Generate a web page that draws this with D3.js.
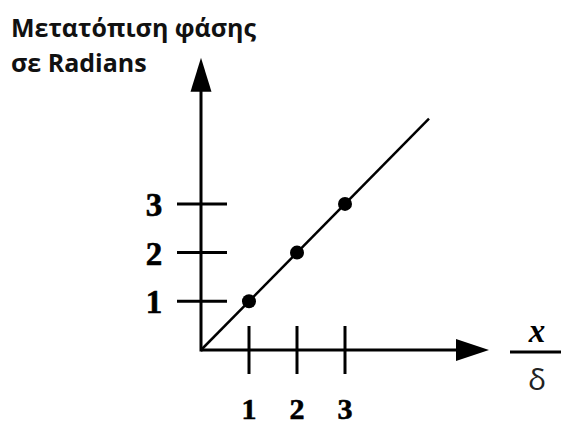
<!DOCTYPE html>
<html>
<head>
<meta charset="utf-8">
<script src="https://cdn.jsdelivr.net/npm/d3@7"></script>
<style>
  html, body { margin: 0; padding: 0; background: #fff; }
  svg { display: block; }
</style>
</head>
<body>
<script>
// Phase shift (radians) grows linearly with x/δ
const xTicks = [1, 2, 3];
const yTicks = [1, 2, 3];
const pointsX = [1, 2, 3];
const pointsY = [1, 2, 3];
const lineX = [0, 4.75];
const lineY = [0, 4.75];
const axisMax = 6;
const titleLines = ["Μετατόπιση φάσης", "σε Radians"];
const xLabelTop = "x";
const xLabelBottom = "δ";

const W = 561, H = 426;
const svg = d3.select("body").append("svg").attr("width", W).attr("height", H);

const x = d3.scaleLinear().domain([0, 1]).range([201, 249]);
const y = d3.scaleLinear().domain([0, 1]).range([350, 301.3]);

const ink = "#000";

// Axes lines
svg.append("line").attr("x1", x(0)).attr("y1", y(0)).attr("x2", x(axisMax) - 30).attr("y2", y(0))
  .attr("stroke", ink).attr("stroke-width", 3);
svg.append("line").attr("x1", x(0)).attr("y1", y(0) + 1.5).attr("x2", x(0)).attr("y2", y(axisMax) + 30)
  .attr("stroke", ink).attr("stroke-width", 3);

// Arrowheads
const xt = x(axisMax), yt = y(0);
svg.append("path").attr("d", `M${xt},${yt} L${xt - 33},${yt - 11} L${xt - 33},${yt + 11} Z`).attr("fill", ink);
const ax = x(0), ay = y(axisMax);
svg.append("path").attr("d", `M${ax},${ay} L${ax - 10.5},${ay + 34} L${ax + 10.5},${ay + 34} Z`).attr("fill", ink);

// Tick marks crossing the axes
svg.selectAll("line.xt").data(xTicks).join("line").attr("class", "xt")
  .attr("x1", d => x(d)).attr("x2", d => x(d)).attr("y1", y(0) - 24).attr("y2", y(0) + 24)
  .attr("stroke", ink).attr("stroke-width", 3);
svg.selectAll("line.yt").data(yTicks).join("line").attr("class", "yt")
  .attr("y1", d => y(d)).attr("y2", d => y(d)).attr("x1", x(0) - 24).attr("x2", x(0) + 26)
  .attr("stroke", ink).attr("stroke-width", 3);

// Tick labels
const numFont = "'Liberation Serif', 'Times New Roman', serif";
svg.selectAll("text.xl").data(xTicks).join("text").attr("class", "xl")
  .attr("x", d => x(d)).attr("y", 419).attr("text-anchor", "middle")
  .attr("font-family", numFont).attr("font-weight", "bold").attr("font-size", 30)
  .attr("stroke", ink).attr("stroke-width", 0.6)
  .text(d => d);
svg.selectAll("text.yl").data(yTicks).join("text").attr("class", "yl")
  .attr("x", 154).attr("y", d => y(d) + 12).attr("text-anchor", "middle")
  .attr("font-family", numFont).attr("font-weight", "bold").attr("font-size", 33)
  .attr("stroke", ink).attr("stroke-width", 0.6)
  .text(d => d);

// Diagonal line
svg.append("path")
  .attr("d", d3.line().x(d => x(d[0])).y(d => y(d[1]))(d3.zip(lineX, lineY)))
  .attr("stroke", ink).attr("stroke-width", 2.5).attr("fill", "none");

// Points
svg.selectAll("circle").data(d3.zip(pointsX, pointsY)).join("circle")
  .attr("cx", d => x(d[0])).attr("cy", d => y(d[1])).attr("r", 7).attr("fill", ink);

// Y-axis title, sized to its line width
const title = svg.selectAll("text.title").data(titleLines).join("text").attr("class", "title")
  .attr("x", 11).attr("y", (d, i) => 37 + i * 35)
  .attr("font-family", "'Open Sans', sans-serif").attr("font-weight", 700).attr("font-size", 24)
  .attr("fill", "#111")
  .text(d => d);
const w0 = title.node().getComputedTextLength();
title.attr("font-size", 24 * 245 / w0);

// X-axis fraction label
svg.append("text").attr("x", 537).attr("y", 342).attr("text-anchor", "middle")
  .attr("font-family", numFont).attr("font-weight", "bold").attr("font-style", "italic")
  .attr("font-size", 33).text(xLabelTop);
svg.append("line").attr("x1", 510).attr("x2", 561).attr("y1", 352).attr("y2", 352)
  .attr("stroke", ink).attr("stroke-width", 3);
svg.append("text").attr("x", 537).attr("y", 390).attr("text-anchor", "middle")
  .attr("font-family", "'Open Sans', sans-serif").attr("font-size", 30).attr("fill", "#222")
  .text(xLabelBottom);
</script>
</body>
</html>
